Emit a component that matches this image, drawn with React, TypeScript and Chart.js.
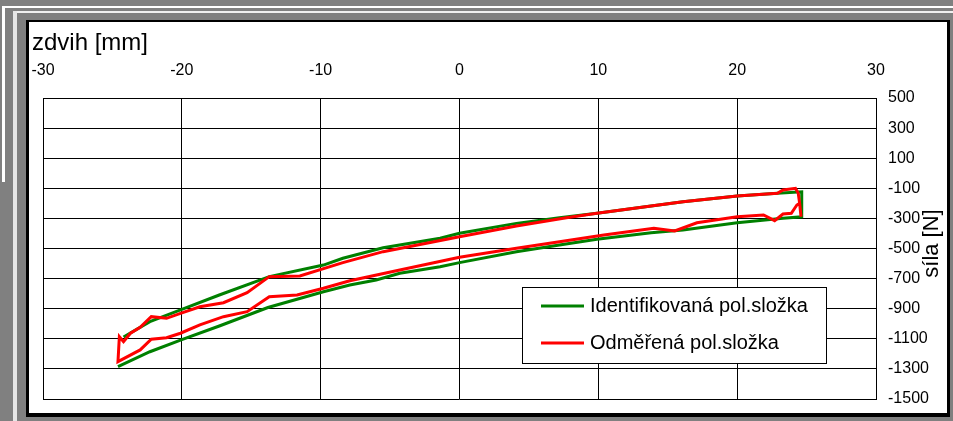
import React, { useEffect, useRef } from "react";
import { Chart, registerables } from "chart.js";

Chart.register(...registerables);

// ---- data ----
const seriesLabels = ["Identifikovaná pol.složka", "Odměřená pol.složka"];
const seriesColors = ["#008000", "#FF0000"];

const identX = [
  -24.2, -22.3, -20.0, -17.3, -13.7, -9.8, -8.4, -5.5, -1.4, 0.0, 4.1, 7.2, 9.9, 13.8, 16.1, 20.0, 22.9, 24.65,
  24.65, 23.3, 20.0, 16.1, 13.8, 9.9, 7.2, 4.1, 0.0, -1.4, -4.3, -6.0, -7.9, -9.8, -13.8, -17.3, -20.0, -22.3, -24.6,
];
const identY = [
  -1088, -986, -905, -809, -687, -610, -565, -495, -432, -399, -333, -295, -266, -218, -189, -151, -133, -123,
  -289, -299, -329, -377, -395, -439, -477, -521, -594, -621, -665, -709, -743, -787, -892, -1015, -1105, -1186, -1285,
];

const measX = [
  24.6, 24.5, 24.4, 24.2, 23.3, 22.9, 20.0, 16.1, 13.8, 9.9, 7.7, 4.1, 0.0, -5.5, -8.4, -11.5, -13.7, -15.3, -17.0,
  -18.7, -20.1, -21.1, -22.2, -23.0, -23.7, -24.2, -24.5, -24.6,
  -23.0, -22.2, -21.1, -20.1, -18.7, -17.0, -15.3, -13.7, -11.7, -9.8, -7.9, -4.3, 0.0, 4.1, 7.2, 10.4, 14.0, 15.5,
  17.1, 20.0, 21.9, 22.7, 23.3, 23.9, 24.3, 24.5,
];
const measY = [
  -289, -200, -133, -100, -111, -133, -151, -189, -218, -266, -295, -350, -422, -521, -594, -683, -687, -794, -860,
  -887, -931, -964, -953, -1024, -1063, -1119, -1086, -1252,
  -1174, -1103, -1093, -1063, -1008, -953, -920, -820, -809, -764, -714, -643, -558, -499, -455, -410, -366, -383,
  -329, -289, -277, -315, -271, -266, -211, -200,
];

const xTicks = [-30, -20, -10, 0, 10, 20, 30];
const yTicks = [500, 300, 100, -100, -300, -500, -700, -900, -1100, -1300, -1500];
const xTitle = "zdvih [mm]";
const yTitle = "síla [N]";

const FONT = '"Liberation Sans", Arial, Helvetica, sans-serif';

const overlayPlugin = {
  id: "overlayTexts",
  afterDatasetsDraw(chart: any) {
    const ctx = chart.ctx as CanvasRenderingContext2D;
    const ca = chart.chartArea;
    ctx.save();
    ctx.fillStyle = "#000";
    // x axis title (top-left)
    ctx.font = `24px ${FONT}`;
    ctx.textAlign = "left";
    ctx.textBaseline = "alphabetic";
    ctx.fillText(xTitle, ca.left - 11, ca.top - 48);
    // y axis title (right, reading upwards)
    ctx.save();
    ctx.translate(ca.right + 56, (ca.top + ca.bottom) / 2 - 5);
    ctx.rotate(-Math.PI / 2);
    ctx.textAlign = "center";
    ctx.textBaseline = "middle";
    ctx.font = `22px ${FONT}`;
    ctx.fillText(yTitle, 0, 0);
    ctx.restore();

    // legend box
    const bx = 493, by = 265, bw = 304, bh = 76;
    ctx.fillStyle = "#fff";
    ctx.fillRect(bx, by, bw, bh);
    ctx.strokeStyle = "#000";
    ctx.lineWidth = 1;
    ctx.strokeRect(bx + 0.5, by + 0.5, bw, bh);
    const rows = [by + 19, by + 56];
    chart.data.datasets.forEach((ds: any, i: number) => {
      const y = rows[i];
      ctx.strokeStyle = ds.borderColor;
      ctx.lineWidth = 3;
      ctx.beginPath();
      ctx.moveTo(bx + 19, y);
      ctx.lineTo(bx + 62, y);
      ctx.stroke();
      ctx.fillStyle = "#000";
      ctx.font = `20px ${FONT}`;
      ctx.textAlign = "left";
      ctx.textBaseline = "middle";
      ctx.fillText(ds.label, bx + 68, y);
    });
    ctx.restore();
  },
};

export default function App() {
  const ref = useRef<HTMLCanvasElement | null>(null);

  useEffect(() => {
    if (!ref.current) return;
    const mk = (xs: number[], ys: number[]) => xs.map((x, i) => ({ x, y: ys[i] }));
    const chart = new Chart(ref.current, {
      type: "line",
      data: {
        datasets: [
          {
            label: seriesLabels[0],
            data: mk(identX, identY),
            borderColor: seriesColors[0],
            backgroundColor: seriesColors[0],
            borderWidth: 3,
            pointRadius: 0,
            tension: 0,
            fill: false,
            order: 1,
          },
          {
            label: seriesLabels[1],
            data: mk(measX, measY),
            borderColor: seriesColors[1],
            backgroundColor: seriesColors[1],
            borderWidth: 3,
            pointRadius: 0,
            tension: 0,
            fill: false,
            order: 0,
          },
        ],
      },
      options: {
        animation: false,
        responsive: false,
        maintainAspectRatio: false,
        events: [],
        layout: { padding: { left: 14, top: 0, right: 0, bottom: 14 } },
        plugins: { legend: { display: false }, tooltip: { enabled: false }, title: { display: false } },
        scales: {
          x: {
            type: "linear",
            position: "top",
            min: -30,
            max: 30,
            afterBuildTicks: (s: any) => {
              s.ticks = xTicks.map((v) => ({ value: v }));
            },
            afterFit: (s: any) => {
              s.height = 76;
              s.paddingLeft = 0;
              s.paddingRight = 0;
            },
            ticks: {
              color: "#000",
              font: { family: FONT, size: 16 },
              padding: 18,
              maxRotation: 0,
              autoSkip: false,
              callback: (v: any) => String(v),
            },
            grid: { color: "#000", lineWidth: 1, drawTicks: false },
            border: { display: true, color: "#000", width: 1 },
          },
          y: {
            type: "linear",
            position: "right",
            min: -1500,
            max: 500,
            afterBuildTicks: (s: any) => {
              s.ticks = yTicks.map((v) => ({ value: v }));
            },
            afterFit: (s: any) => {
              s.width = 71;
              s.paddingTop = 0;
              s.paddingBottom = 0;
            },
            ticks: {
              color: "#000",
              font: { family: FONT, size: 16 },
              padding: 12,
              autoSkip: false,
              callback: (v: any) => String(v),
            },
            grid: { color: "#000", lineWidth: 1, drawTicks: false },
            border: { display: true, color: "#000", width: 1 },
          },
        },
      },
      plugins: [overlayPlugin],
    } as any);
    return () => chart.destroy();
  }, []);

  const abs = (l: number, t: number, w: number, h: number, bg: string): React.CSSProperties => ({
    position: "absolute",
    left: l,
    top: t,
    width: w,
    height: h,
    background: bg,
  });

  return (
    <div style={{ position: "fixed", left: 0, top: 0, width: 953, height: 421, background: "#808080", overflow: "hidden" }}>
      <div style={abs(3, 6, 950, 2, "#ffffff")} />
      <div style={abs(2, 6, 3, 176, "#ffffff")} />
      <div style={abs(13, 11, 940, 2, "#f0f0f0")} />
      <div style={abs(13, 11, 4, 410, "#e6e6e6")} />
      <div style={abs(26, 20, 924, 397, "#000000")} />
      <div style={abs(29, 22, 918, 391, "#ffffff")} />
      <canvas
        ref={ref}
        width={918}
        height={391}
        style={{ position: "absolute", left: 29, top: 22, width: 918, height: 391, display: "block" }}
      />
    </div>
  );
}
